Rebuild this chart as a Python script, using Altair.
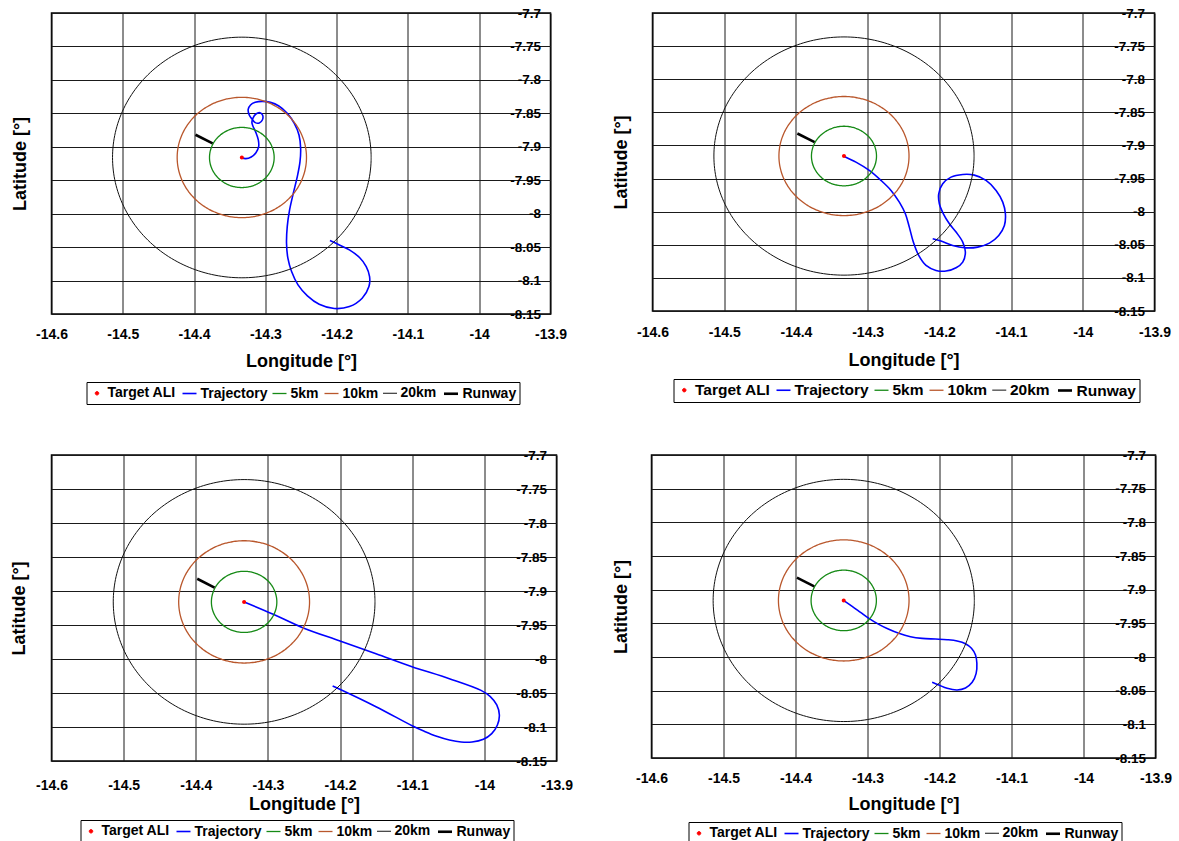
import numpy as np
import pandas as pd
import altair as alt

FONT = "Liberation Sans"

# Legend entries, in legend order, with their colours, line widths and symbols
SERIES = ["Target ALI", "Trajectory", "5km", "10km", "20km", "Runway"]
SERIES_COLORS = ["#ff0000", "#0000ff", "#168a16", "#b9572c", "#111111", "#000000"]
SERIES_WIDTHS = [1.0, 1.6, 1.3, 1.3, 1.0, 2.6]
DOT_PATH = "M-0.25,0A0.25,0.25,0,1,0,0.25,0A0.25,0.25,0,1,0,-0.25,0Z"
SERIES_SHAPES = [DOT_PATH, "stroke", "stroke", "stroke", "stroke", "stroke"]

LON_TICKS = [-14.6, -14.5, -14.4, -14.3, -14.2, -14.1, -14.0, -13.9]
LAT_TICKS = [-8.15, -8.1, -8.05, -8.0, -7.95, -7.9, -7.85, -7.8, -7.75, -7.7]

# Target point, range rings and runway
TARGET_LON = -14.333
TARGET_LAT = -7.916
RING_NAMES = ["5km", "10km", "20km"]
RING_RADII_KM = [5, 10, 20]
RUNWAY_LON = [-14.398, -14.374]
RUNWAY_LAT = [-7.882, -7.895]

# Ground tracks, one per case
TRAJ1_LON = [-14.334, -14.3274, -14.3198, -14.3132, -14.3094, -14.3099, -14.3132, -14.3175,
             -14.3189, -14.3175, -14.3132, -14.3075, -14.3038, -14.3042, -14.3085, -14.3142,
             -14.3184, -14.3226, -14.3241, -14.3208, -14.3142, -14.3047, -14.2929, -14.2811,
             -14.2693, -14.2594, -14.2528, -14.2505, -14.2514, -14.2552, -14.2608, -14.2660,
             -14.2693, -14.2703, -14.2684, -14.2632, -14.2542, -14.2410, -14.2245, -14.2033,
             -14.1821, -14.1642, -14.1547, -14.1538, -14.1585, -14.1679, -14.1821, -14.1962,
             -14.2094]
TRAJ1_LAT = [-7.9160, -7.9177, -7.9152, -7.9088, -7.8998, -7.8898, -7.8789, -7.8689,
             -7.8634, -7.8575, -7.8510, -7.8490, -7.8530, -7.8600, -7.8644, -7.8639,
             -7.8590, -7.8525, -7.8440, -7.8375, -7.8336, -7.8321, -7.8336, -7.8390,
             -7.8500, -7.8649, -7.8824, -7.9023, -7.9222, -7.9446, -7.9695, -7.9944,
             -8.0193, -8.0442, -8.0666, -8.0866, -8.1065, -8.1229, -8.1354, -8.1418,
             -8.1389, -8.1264, -8.1090, -8.0940, -8.0791, -8.0656, -8.0542, -8.0467,
             -8.0402]

TRAJ2_LON = [-14.3326, -14.3163, -14.2977, -14.2814, -14.2674, -14.2558, -14.2474, -14.2419,
             -14.2363, -14.2288, -14.2186, -14.2047, -14.1907, -14.1767, -14.1674, -14.1637,
             -14.1674, -14.1767, -14.1860, -14.1944, -14.2000, -14.2009, -14.1953, -14.1837,
             -14.1674, -14.1512, -14.1349, -14.1209, -14.1116, -14.1079, -14.1093, -14.1172,
             -14.1302, -14.1465, -14.1651, -14.1814, -14.1977, -14.2093]
TRAJ2_LAT = [-7.9166, -7.9252, -7.9377, -7.9528, -7.9679, -7.9856, -8.0032, -8.0233,
             -8.0459, -8.0661, -8.0812, -8.0887, -8.0897, -8.0847, -8.0761, -8.0610,
             -8.0459, -8.0308, -8.0183, -8.0032, -7.9881, -7.9730, -7.9579, -7.9478,
             -7.9438, -7.9448, -7.9528, -7.9679, -7.9856, -8.0032, -8.0208, -8.0359,
             -8.0475, -8.0535, -8.0545, -8.0510, -8.0444, -8.0409]

TRAJ3_LON = [-14.3328, -14.2935, -14.2519, -14.2001, -14.1502, -14.1003, -14.0485, -14.0046,
             -13.9921, -13.9828, -13.9792, -13.9819, -13.9898, -14.0013, -14.0171, -14.0323,
             -14.0485, -14.0661, -14.0832, -14.0994, -14.1502, -14.2011, -14.2103]
TRAJ3_LAT = [-7.9162, -7.9338, -7.9539, -7.9735, -7.9922, -8.0113, -8.0289, -8.0461,
             -8.0549, -8.0676, -8.0824, -8.0971, -8.1098, -8.1181, -8.1221, -8.1221,
             -8.1191, -8.1137, -8.1064, -8.0985, -8.0701, -8.0441, -8.0397]

TRAJ4_LON = [-14.3329, -14.3213, -14.3097, -14.2981, -14.2843, -14.2704, -14.2565, -14.2403,
             -14.2241, -14.2056, -14.1894, -14.1755, -14.1639, -14.1556, -14.1500, -14.1481,
             -14.1491, -14.1546, -14.1639, -14.1755, -14.1894, -14.2009, -14.2102]
TRAJ4_LAT = [-7.9163, -7.9248, -7.9337, -7.9426, -7.9515, -7.9589, -7.9649, -7.9698,
             -7.9723, -7.9733, -7.9743, -7.9762, -7.9802, -7.9871, -7.9970, -8.0094,
             -8.0243, -8.0376, -8.0460, -8.0490, -8.0465, -8.0416, -8.0376]


def ring(radius_km, n=241):
    """Circle of the given ground radius around the target, in degrees."""
    t = np.linspace(0.0, 2.0 * np.pi, n)
    dlat = radius_km / 111.2
    dlon = radius_km / (111.32 * np.cos(np.radians(TARGET_LAT)))
    return TARGET_LON + dlon * np.cos(t), TARGET_LAT + dlat * np.sin(t)


def line_table(traj_lon, traj_lat):
    frames = [pd.DataFrame({"series": "Trajectory", "order": range(len(traj_lon)),
                            "lon": traj_lon, "lat": traj_lat})]
    for name, radius in zip(RING_NAMES, RING_RADII_KM):
        xs, ys = ring(radius)
        frames.append(pd.DataFrame({"series": name, "order": range(len(xs)),
                                    "lon": xs, "lat": ys}))
    frames.append(pd.DataFrame({"series": "Runway", "order": range(len(RUNWAY_LON)),
                                "lon": RUNWAY_LON, "lat": RUNWAY_LAT}))
    return pd.concat(frames, ignore_index=True)


def panel(traj_lon, traj_lat, width, height, label_pad, title_pad, ytitle_pad,
          legend_x, legend_y, legend_font):
    xscale = alt.Scale(domain=[LON_TICKS[0], LON_TICKS[-1]], nice=False, zero=False)
    yscale = alt.Scale(domain=[LAT_TICKS[0], LAT_TICKS[-1]], nice=False, zero=False)

    legend = alt.Legend(
        title=None, orient="none", legendX=legend_x, legendY=legend_y,
        direction="horizontal", strokeColor="black", padding=3,
        labelFont=FONT, labelFontSize=legend_font, labelFontWeight="bold",
        labelColor="black", symbolSize=196, labelOffset=3, columnPadding=2,
    )
    color = alt.Color("series:N", scale=alt.Scale(domain=SERIES, range=SERIES_COLORS),
                      legend=legend)

    x_axis = alt.Axis(
        values=LON_TICKS, labelExpr="toString(datum.value)", grid=True,
        gridColor="#1a1a1a", gridWidth=1, gridOpacity=1, ticks=False, domain=False,
        labelPadding=label_pad, labelFont=FONT, labelFontSize=14, labelFontWeight="bold",
        labelColor="black", labelFlush=False, labelOverlap=False,
        title="Longitude [°]", titleFont=FONT, titleFontSize=18, titleFontWeight="bold",
        titleColor="black", titlePadding=title_pad,
    )
    y_left = alt.Axis(
        orient="left", values=LAT_TICKS, labels=False, ticks=False, domain=False,
        grid=True, gridColor="#1a1a1a", gridWidth=1, gridOpacity=1,
        title="Latitude [°]", titleFont=FONT, titleFontSize=18, titleFontWeight="bold",
        titleColor="black", titlePadding=ytitle_pad,
    )
    y_right = alt.Axis(
        orient="right", values=LAT_TICKS, labelExpr="toString(datum.value)",
        grid=False, ticks=False, domain=False, labelAlign="right", labelBaseline="middle",
        labelPadding=-10, labelFont=FONT, labelFontSize=13.5, labelFontWeight="bold",
        labelColor="black", labelFlush=False, labelOverlap=False, title=None,
    )

    lines = alt.Chart(line_table(traj_lon, traj_lat)).mark_line(
        interpolate="catmull-rom"
    ).encode(
        x=alt.X("lon:Q", scale=xscale, axis=x_axis),
        y=alt.Y("lat:Q", scale=yscale, axis=y_left),
        color=color,
        strokeWidth=alt.StrokeWidth(
            "series:N",
            scale=alt.Scale(type="ordinal", domain=SERIES, range=SERIES_WIDTHS),
            legend=legend),
        order=alt.Order("order:Q"),
    )
    target = alt.Chart(pd.DataFrame({"series": ["Target ALI"], "lon": [TARGET_LON],
                                     "lat": [TARGET_LAT]})).mark_point(
        filled=True, size=256, opacity=1
    ).encode(
        x=alt.X("lon:Q", scale=xscale, axis=x_axis),
        y=alt.Y("lat:Q", scale=yscale, axis=y_right),
        color=color,
        shape=alt.Shape("series:N",
                        scale=alt.Scale(domain=SERIES, range=SERIES_SHAPES),
                        legend=legend),
    )
    return alt.layer(lines, target).properties(width=width, height=height)


p1 = panel(TRAJ1_LON, TRAJ1_LAT, 499, 301, 13, 11, 22, 35, 369, 14)
p2 = panel(TRAJ2_LON, TRAJ2_LAT, 502, 298, 14, 12, 22, 21, 366, 15.5)
p3 = panel(TRAJ3_LON, TRAJ3_LAT, 505, 306, 17, 3, 22.6, 29, 365, 14)
p4 = panel(TRAJ4_LON, TRAJ4_LAT, 504, 303, 13, 10, 21, 37, 367, 14)

chart = alt.concat(
    p1, p2, p3, p4, columns=2, align="none", spacing={"row": 41, "column": 38}
).resolve_scale(
    color="independent", shape="independent", strokeWidth="independent"
).properties(
    padding={"left": 9.5, "top": 5, "right": 5, "bottom": 5}
).configure(
    font=FONT, background="white"
).configure_view(
    stroke="black", strokeWidth=1.5
)

chart.save("out.html", embed_options={"renderer": "svg", "actions": False})
